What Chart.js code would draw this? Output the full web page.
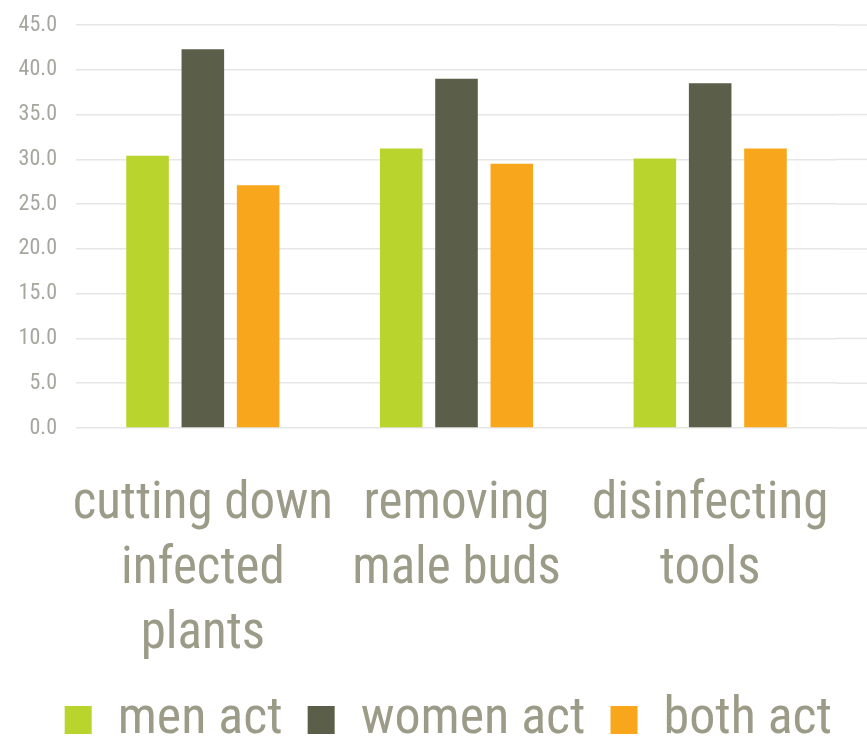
<!DOCTYPE html>
<html>
<head>
<meta charset="utf-8">
<script src="https://cdn.jsdelivr.net/npm/chart.js@4"></script>
<style>
	html, body { margin: 0; padding: 0; background: #ffffff; }
	#wrap { width: 867px; height: 738px; }
</style>
</head>
<body>
<div id="wrap"><canvas id="bar-main"></canvas></div>
<script>
// Chart data
const categories = [
	["cutting down", "infected", "plants"],
	["removing", "male buds"],
	["disinfecting", "tools"],
];
const seriesNames = ["men act", "women act", "both act"];
const menAct = [30.4, 31.2, 30.1];
const womenAct = [42.3, 39.0, 38.5];
const bothAct = [27.1, 29.5, 31.2];
const yTicks = [0, 5, 10, 15, 20, 25, 30, 35, 40, 45];

const barColors = ["#bad42e", "#5b5e48", "#f8a71d"];
const textGrey = "#9b9b88";
const gridGrey = "#e6e6e6";
const narrow = "'Roboto Condensed', 'Liberation Sans', sans-serif";

// The original's grid lines run on to the right edge of the picture
const gridToEdge = {
	id: "gridToEdge",
	beforeDatasetsDraw(chart) {
		const { ctx, chartArea, scales } = chart;
		ctx.save();
		ctx.strokeStyle = gridGrey;
		ctx.lineWidth = 1.5;
		scales.y.ticks.forEach((t) => {
			const y = scales.y.getPixelForValue(t.value);
			ctx.beginPath();
			ctx.moveTo(chartArea.right, y);
			ctx.lineTo(chart.width, y);
			ctx.stroke();
		});
		ctx.restore();
	},
};

/**
 * Build the bar chart once the page is ready
 */
function drawChart() {
	const el = document.getElementById("bar-main");
	if (!el) return;

	const values = [menAct, womenAct, bothAct];
	const barData = {
		labels: categories,
		datasets: seriesNames.map((name, i) => ({
			label: name,
			data: values[i],
			backgroundColor: barColors[i],
			borderWidth: 0,
			categoryPercentage: 0.654,
			barPercentage: 0.77,
		})),
	};

	const configBar = {
		type: "bar",
		data: barData,
		plugins: [gridToEdge],
		options: {
			responsive: true,
			maintainAspectRatio: false,
			animation: false,
			layout: {
				padding: { top: 6, right: 10, left: 10, bottom: -18 },
			},
			scales: {
				x: {
					grid: { display: false },
					border: { display: false },
					afterFit: (axis) => {
						axis.height = 241;
					},
					ticks: {
						color: textGrey,
						padding: 37,
						maxRotation: 0,
						autoSkip: false,
						font: { family: narrow, size: 51, lineHeight: 1.275 },
					},
				},
				y: {
					min: 0,
					max: 45,
					afterBuildTicks: (axis) => {
						axis.ticks = yTicks.map((v) => ({ value: v }));
					},
					afterFit: (axis) => {
						axis.width = 66;
					},
					grid: { color: gridGrey, lineWidth: 1.5, drawTicks: false },
					border: { display: false },
					ticks: {
						color: "#a6a69e",
						padding: 19,
						autoSkip: false,
						font: { family: narrow, size: 22, lineHeight: 0.55 },
						callback: (v) => Number(v).toFixed(1),
					},
				},
			},
			plugins: {
				tooltip: { enabled: false },
				legend: {
					position: "bottom",
					align: "end",
					labels: {
						color: textGrey,
						boxWidth: 27,
						boxHeight: 28,
						padding: 25,
						font: { family: narrow, size: 52 },
					},
				},
			},
		},
	};

	window.chartMain = new Chart(el, configBar);
}

document.addEventListener("DOMContentLoaded", drawChart);
</script>
</body>
</html>
